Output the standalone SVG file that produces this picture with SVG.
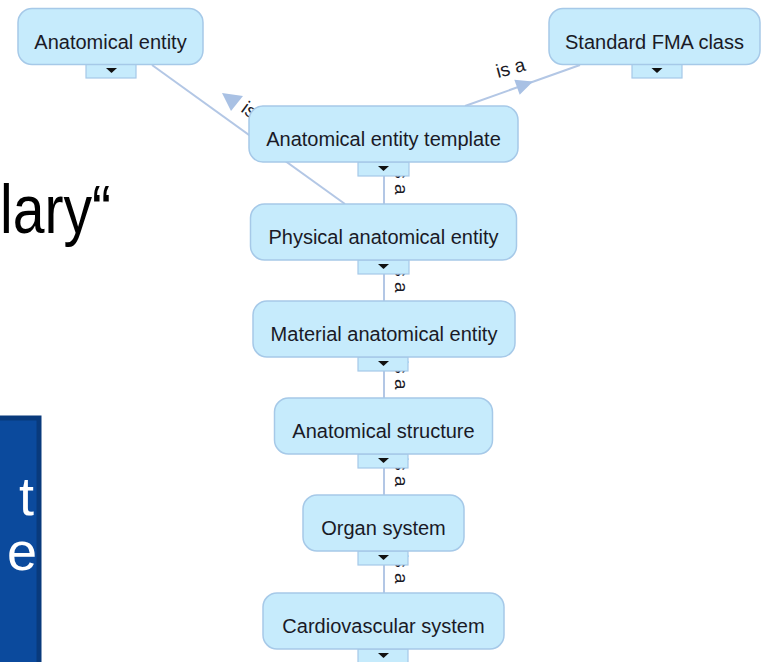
<svg xmlns="http://www.w3.org/2000/svg" width="769" height="662" viewBox="0 0 769 662">
<defs>
<style>
.node rect.box{fill:#c6ebfc;stroke:#a6c9e8;stroke-width:1.5}
.node rect.tab{fill:#c6ebfc;stroke:#a6c9e8;stroke-width:1.2}
.node polygon{fill:#111}
.node text{font-family:"Liberation Sans",Arial,sans-serif;font-size:20px;fill:#1a1a26;text-anchor:middle}
.edge{stroke:#b3c7e5;stroke-width:2;fill:none}
.arrow{fill:#a9c1e4}
.lbl{font-family:"Liberation Sans",Arial,sans-serif;font-size:19px;fill:#1a1a26}
.bg{font-family:"Liberation Sans",Arial,sans-serif}
</style>
</defs>
<rect width="769" height="662" fill="#ffffff"/>
<g id="background">
<text class="bg" x="0" y="233" font-size="68" fill="#000" textLength="111" lengthAdjust="spacingAndGlyphs">lary“</text>
<rect x="-5" y="418" width="44" height="250" fill="#0b4a9d" stroke="#093a7c" stroke-width="5"/>
<text class="bg" x="34" y="515" font-size="54" fill="#ffffff" text-anchor="end">t</text>
<text class="bg" x="37" y="570" font-size="54" fill="#ffffff" text-anchor="end">e</text>
</g>
<g id="connectors">
<line class="edge" x1="152" y1="65" x2="345" y2="204"/>
<polygon class="arrow" points="222,93 243,96 231,111"/>
<text class="lbl" x="240" y="111" transform="rotate(36 240 111)">is a</text>
<line class="edge" x1="465" y1="106" x2="580" y2="65"/>
<polygon class="arrow" points="533,81.5 519.7,94.7 514.3,79.7"/>
<text class="lbl" x="498" y="78" transform="rotate(-15 498 78)">is a</text>
<line class="edge" x1="384" y1="162" x2="384" y2="204"/>
<text class="lbl" x="395" y="165" transform="rotate(90 395 165)">is a</text>
<line class="edge" x1="384" y1="260" x2="384" y2="301"/>
<text class="lbl" x="395" y="263" transform="rotate(90 395 263)">is a</text>
<line class="edge" x1="384" y1="357" x2="384" y2="398"/>
<text class="lbl" x="395" y="360" transform="rotate(90 395 360)">is a</text>
<line class="edge" x1="384" y1="454" x2="384" y2="495"/>
<text class="lbl" x="395" y="457" transform="rotate(90 395 457)">is a</text>
<line class="edge" x1="384" y1="551" x2="384" y2="593"/>
<text class="lbl" x="395" y="554" transform="rotate(90 395 554)">is a</text>
</g>
<g id="node-anatomical-entity" class="node">
<rect class="tab" x="86" y="64" width="50" height="14"/>
<polygon points="106,68 117,68 111.5,73"/>
<rect class="box" x="18" y="8.5" width="185" height="56" rx="14"/>
<text x="110.5" y="48.5">Anatomical entity</text>
</g>
<g id="node-standard-fma-class" class="node">
<rect class="tab" x="632" y="64" width="50" height="14"/>
<polygon points="651.5,68 662.5,68 657,73"/>
<rect class="box" x="549" y="8.5" width="211" height="56" rx="14"/>
<text x="654.5" y="48.5">Standard FMA class</text>
</g>
<g id="node-anatomical-entity-template" class="node">
<rect class="tab" x="358" y="162" width="51" height="14"/>
<polygon points="378,166 389,166 383.5,171"/>
<rect class="box" x="249" y="106" width="269" height="56" rx="14"/>
<text x="383.5" y="145.5">Anatomical entity template</text>
</g>
<g id="node-physical-anatomical-entity" class="node">
<rect class="tab" x="358" y="260" width="51" height="14"/>
<polygon points="378,264 389,264 383.5,269"/>
<rect class="box" x="250.5" y="204" width="266" height="56" rx="14"/>
<text x="383.5" y="243.5">Physical anatomical entity</text>
</g>
<g id="node-material-anatomical-entity" class="node">
<rect class="tab" x="358" y="357" width="50" height="14"/>
<polygon points="378,361 389,361 383.5,366"/>
<rect class="box" x="253" y="301" width="262" height="56" rx="14"/>
<text x="384" y="340.5">Material anatomical entity</text>
</g>
<g id="node-anatomical-structure" class="node">
<rect class="tab" x="358" y="454" width="50" height="14"/>
<polygon points="378,458 389,458 383.5,463"/>
<rect class="box" x="274.5" y="398" width="218" height="56" rx="14"/>
<text x="383.5" y="437.5">Anatomical structure</text>
</g>
<g id="node-organ-system" class="node">
<rect class="tab" x="358" y="551" width="50" height="14"/>
<polygon points="378,555 389,555 383.5,560"/>
<rect class="box" x="303" y="495" width="161" height="56" rx="14"/>
<text x="383.5" y="534.5">Organ system</text>
</g>
<g id="node-cardiovascular-system" class="node">
<rect class="tab" x="358" y="649" width="50" height="14"/>
<polygon points="378,653 389,653 383.5,658"/>
<rect class="box" x="263" y="593" width="241" height="56" rx="14"/>
<text x="383.5" y="632.5">Cardiovascular system</text>
</g>
</svg>
